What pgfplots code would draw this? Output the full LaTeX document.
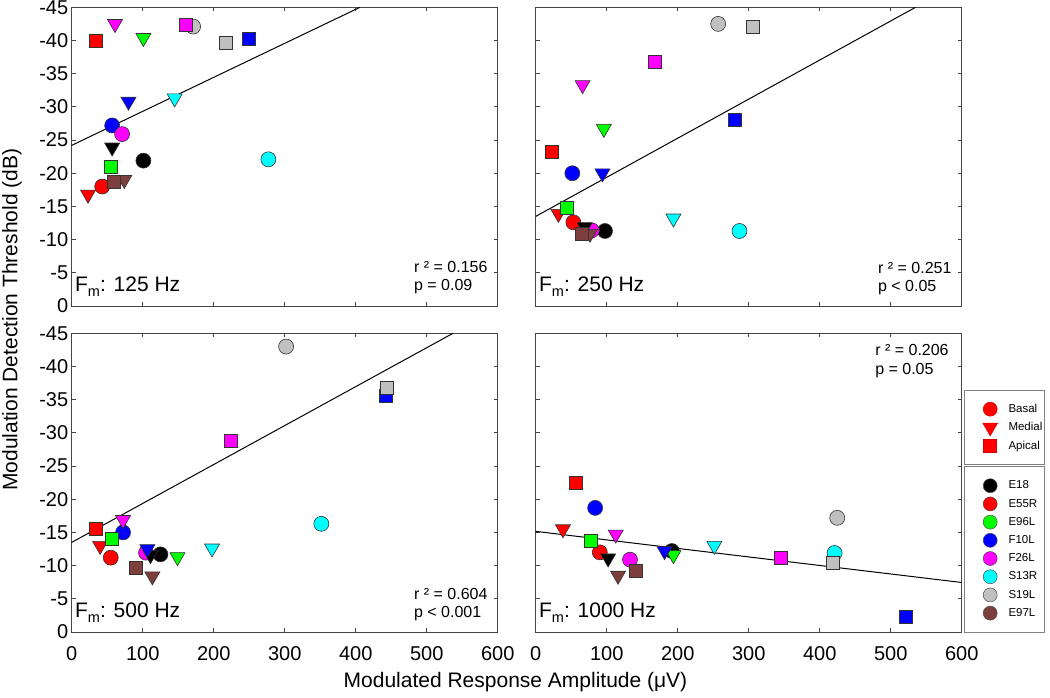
\documentclass[border=0pt]{standalone}
\usepackage{fontspec}
\setmainfont{Liberation Sans}
\usepackage{pgfplots}
\pgfplotsset{compat=1.18}

\definecolor{cE18}{RGB}{0,0,0}
\definecolor{cE55R}{RGB}{255,0,0}
\definecolor{cE96L}{RGB}{0,255,0}
\definecolor{cF10L}{RGB}{0,0,255}
\definecolor{cF26L}{RGB}{255,0,255}
\definecolor{cS13R}{RGB}{0,255,255}
\definecolor{cS19L}{RGB}{192,192,192}
\definecolor{cE97L}{RGB}{125,62,62}
\definecolor{frame}{RGB}{70,70,70}

\pgfdeclareplotmark{dtri*}{%
  \pgfpathmoveto{\pgfqpointpolar{-90}{\pgfplotmarksize}}%
  \pgfpathlineto{\pgfqpointpolar{30}{\pgfplotmarksize}}%
  \pgfpathlineto{\pgfqpointpolar{150}{\pgfplotmarksize}}%
  \pgfpathclose
  \pgfusepathqfillstroke
}

\newcommand{\Fm}{F\raisebox{-5pt}{\fontsize{14.5}{16}\selectfont m}}

\tikzset{
  lbl/.style={anchor=base west, inner sep=0pt, font=\fontsize{21}{24}\selectfont},
  stat/.style={anchor=west, inner sep=0pt, align=left, font=\fontsize{16}{18.5}\selectfont},
}

\pgfplotsset{
  classes/.style={scatter, only marks, scatter src=explicit symbolic,
    scatter/classes={E18={fill=cE18},E55R={fill=cE55R},E96L={fill=cE96L},F10L={fill=cF10L},
      F26L={fill=cF26L},S13R={fill=cS13R},S19L={fill=cS19L},E97L={fill=cE97L}},
    mark options={draw=black!80, line width=0.6pt}},
  bas/.style={classes, mark=*, mark size=7.5pt},
  med/.style={classes, mark=dtri*, mark size=8.7pt},
  api/.style={classes, mark=square*, mark size=6.5pt},
  fit/.style={black, line width=1pt, no marks},
  panel/.style={scale only axis, width=426pt, height=298.7pt,
    xmin=0, xmax=600, ymin=-45, ymax=0, y dir=reverse,
    xtick={0,100,...,600}, ytick={-45,-40,...,0},
    xticklabels={}, yticklabels={},
    tick align=inside, major tick length=4pt,
    axis line style={frame, line width=1pt},
    every tick/.style={frame, line width=1pt},
    ticklabel style={font=\fontsize{20}{23}\selectfont},
    xticklabel style={yshift=-11pt}},
  ylab/.style={yticklabels={-45,-40,-35,-30,-25,-20,-15,-10,-5,0}},
  xlab/.style={xticklabels={0,100,200,300,400,500,600}},
  legimg/.style={legend image code/.code={\path (0pt,-8pt) (42.7pt,8pt); \draw[##1] plot coordinates {(25pt,0pt)};}},
}

\begin{document}
\begin{tikzpicture}
% ---------------- 125 Hz ----------------
\begin{axis}[panel, ylab, at={(0pt,326pt)}, anchor=south west]
\addplot[fit] coordinates {(0,-24.2) (406,-45)};
\addplot[bas] coordinates {(101,-21.9)[E18] (43,-18.0)[E55R] (57,-27.2)[F10L] (71,-25.9)[F26L] (277,-22.1)[S13R] (171,-42.1)[S19L]};
\addplot[med] coordinates {(57,-23.9)[E18] (23,-16.8)[E55R] (101,-40.4)[E96L] (80,-30.8)[F10L] (61,-42.5)[F26L] (145,-31.3)[S13R] (74,-19.0)[E97L]};
\addplot[api] coordinates {(34,-39.9)[E55R] (55,-21.0)[E96L] (249,-40.3)[F10L] (161,-42.4)[F26L] (217,-39.7)[S19L] (59,-18.7)[E97L]};
\node[lbl] at (axis cs:4.6,-2.15) {\Fm: 125 Hz};
\node[stat] at (axis cs:482,-4.3) {r ² = 0.156\\p = 0.09};
\end{axis}
% ---------------- 250 Hz ----------------
\begin{axis}[panel, at={(464pt,326pt)}, anchor=south west]
\addplot[fit] coordinates {(0,-13.5) (535,-45)};
\addplot[bas] coordinates {(97.6,-11.3)[E18] (53,-12.6)[E55R] (51.6,-20.0)[F10L] (79,-11.4)[F26L] (287,-11.3)[S13R] (257,-42.5)[S19L]};
\addplot[med] coordinates {(69,-11.9)[E18] (32,-13.9)[E55R] (96,-26.7)[E96L] (94,-20.0)[F10L] (66,-33.3)[F26L] (194,-13.2)[S13R] (76.5,-10.9)[E97L]};
\addplot[api] coordinates {(22.5,-23.3)[E55R] (43.6,-14.8)[E96L] (280,-28.1)[F10L] (168,-36.8)[F26L] (306,-42.1)[S19L] (65,-10.9)[E97L]};
\node[lbl] at (axis cs:4.6,-2.15) {\Fm: 250 Hz};
\node[stat] at (axis cs:482,-4.1) {r ² = 0.251\\p < 0.05};
\end{axis}
% ---------------- 500 Hz ----------------
\begin{axis}[panel, ylab, xlab, at={(0pt,0pt)}, anchor=south west]
\addplot[fit] coordinates {(0,-13.5) (537,-45)};
\addplot[bas] coordinates {(125,-11.7)[E18] (55,-11.2)[E55R] (72.3,-15.0)[F10L] (104.7,-11.95)[F26L] (351.6,-16.3)[S13R] (302,-43.0)[S19L]};
\addplot[med] coordinates {(111,-11.6)[E18] (40,-13.0)[E55R] (149,-11.3)[E96L] (106.6,-12.5)[F10L] (72.3,-16.9)[F26L] (197.7,-12.6)[S13R] (113.6,-8.4)[E97L]};
\addplot[api] coordinates {(34.3,-15.5)[E55R] (56.3,-14.0)[E96L] (442.7,-35.6)[F10L] (224,-28.8)[F26L] (443.7,-36.8)[S19L] (89.7,-9.6)[E97L]};
\node[lbl] at (axis cs:4.6,-2.15) {\Fm: 500 Hz};
\node[stat] at (axis cs:482,-4.1) {r ² = 0.604\\p < 0.001};
\end{axis}
% ---------------- 1000 Hz ----------------
\begin{axis}[panel, xlab, at={(464pt,0pt)}, anchor=south west]
\addplot[fit] coordinates {(0,-15.16) (600,-7.46)};
\addplot[bas] coordinates {(191.8,-12.2)[E18] (90.3,-12.0)[E55R] (83.7,-18.7)[F10L] (132.8,-10.9)[F26L] (421,-11.9)[S13R] (424.7,-17.2)[S19L]};
\addplot[med] coordinates {(102,-11.1)[E18] (38.4,-15.5)[E55R] (194,-11.6)[E96L] (181.5,-12.2)[F10L] (112.7,-14.7)[F26L] (251.6,-13.0)[S13R] (116,-8.5)[E97L]};
\addplot[api] coordinates {(57,-22.45)[E55R] (78,-13.75)[E96L] (520.6,-2.3)[F10L] (345.6,-11.2)[F26L] (419,-10.4)[S19L] (140.3,-9.2)[E97L]};
\node[lbl] at (axis cs:4.6,-2.15) {\Fm: 1000 Hz};
\node[stat] at (axis cs:478,-40.85) {r ² = 0.206\\p = 0.05};
\end{axis}
% ---------------- legend: location ----------------
\begin{axis}[scale only axis, width=426pt, height=298.7pt, at={(464pt,0pt)}, anchor=south west,
  hide axis, xmin=0, xmax=1, ymin=0, ymax=1,
  legend style={at={(1.0054,0.8102)}, anchor=north west, draw=gray, line width=1.2pt,
    inner xsep=0pt, inner ysep=10pt, row sep=1pt, column sep=0pt,
    nodes={inner sep=0pt}, font=\fontsize{11.5}{13}\selectfont},
  legend cell align=left]
\addlegendimage{legimg, only marks, mark=*, mark size=7pt, mark options={fill=red, draw=red!85!black, line width=0.5pt}}
\addlegendentry{\makebox[36.3pt][l]{Basal}}
\addlegendimage{legimg, only marks, mark=dtri*, mark size=8.5pt, mark options={fill=red, draw=red!85!black, line width=0.5pt}}
\addlegendentry{\makebox[36.3pt][l]{Medial}}
\addlegendimage{legimg, only marks, mark=square*, mark size=6.5pt, mark options={fill=red, draw=red!85!black, line width=0.5pt}}
\addlegendentry{\makebox[36.3pt][l]{Apical}}
\end{axis}
% ---------------- legend: subjects ----------------
\begin{axis}[scale only axis, width=426pt, height=298.7pt, at={(464pt,0pt)}, anchor=south west,
  hide axis, xmin=0, xmax=1, ymin=0, ymax=1,
  legend style={at={(1.0054,0.5557)}, anchor=north west, draw=gray, line width=1.2pt,
    inner xsep=0pt, inner ysep=10.5pt, row sep=1pt, column sep=0pt,
    nodes={inner sep=0pt}, font=\fontsize{11.5}{13}\selectfont},
  legend cell align=left]
\addlegendimage{legimg, only marks, mark=*, mark size=7pt, mark options={fill=cE18, draw=black!70, line width=0.5pt}}
\addlegendentry{\makebox[36.3pt][l]{E18}}
\addlegendimage{legimg, only marks, mark=*, mark size=7pt, mark options={fill=cE55R, draw=black!70, line width=0.5pt}}
\addlegendentry{\makebox[36.3pt][l]{E55R}}
\addlegendimage{legimg, only marks, mark=*, mark size=7pt, mark options={fill=cE96L, draw=black!70, line width=0.5pt}}
\addlegendentry{\makebox[36.3pt][l]{E96L}}
\addlegendimage{legimg, only marks, mark=*, mark size=7pt, mark options={fill=cF10L, draw=black!70, line width=0.5pt}}
\addlegendentry{\makebox[36.3pt][l]{F10L}}
\addlegendimage{legimg, only marks, mark=*, mark size=7pt, mark options={fill=cF26L, draw=black!70, line width=0.5pt}}
\addlegendentry{\makebox[36.3pt][l]{F26L}}
\addlegendimage{legimg, only marks, mark=*, mark size=7pt, mark options={fill=cS13R, draw=black!70, line width=0.5pt}}
\addlegendentry{\makebox[36.3pt][l]{S13R}}
\addlegendimage{legimg, only marks, mark=*, mark size=7pt, mark options={fill=cS19L, draw=black!70, line width=0.5pt}}
\addlegendentry{\makebox[36.3pt][l]{S19L}}
\addlegendimage{legimg, only marks, mark=*, mark size=7pt, mark options={fill=cE97L, draw=black!70, line width=0.5pt}}
\addlegendentry{\makebox[36.3pt][l]{E97L}}
\end{axis}
% ---------------- shared axis titles ----------------
\node[rotate=90, font=\fontsize{21}{24}\selectfont] at (-59.7pt,312.3pt) {Modulation Detection Threshold (dB)};
\node[font=\fontsize{21}{24}\selectfont] at (443.8pt,-50pt) {Modulated Response Amplitude (μV)};
\pgfresetboundingbox
\path[use as bounding box] (-71.7pt,-65pt) rectangle (978.3pt,632pt);
\end{tikzpicture}
\end{document}
